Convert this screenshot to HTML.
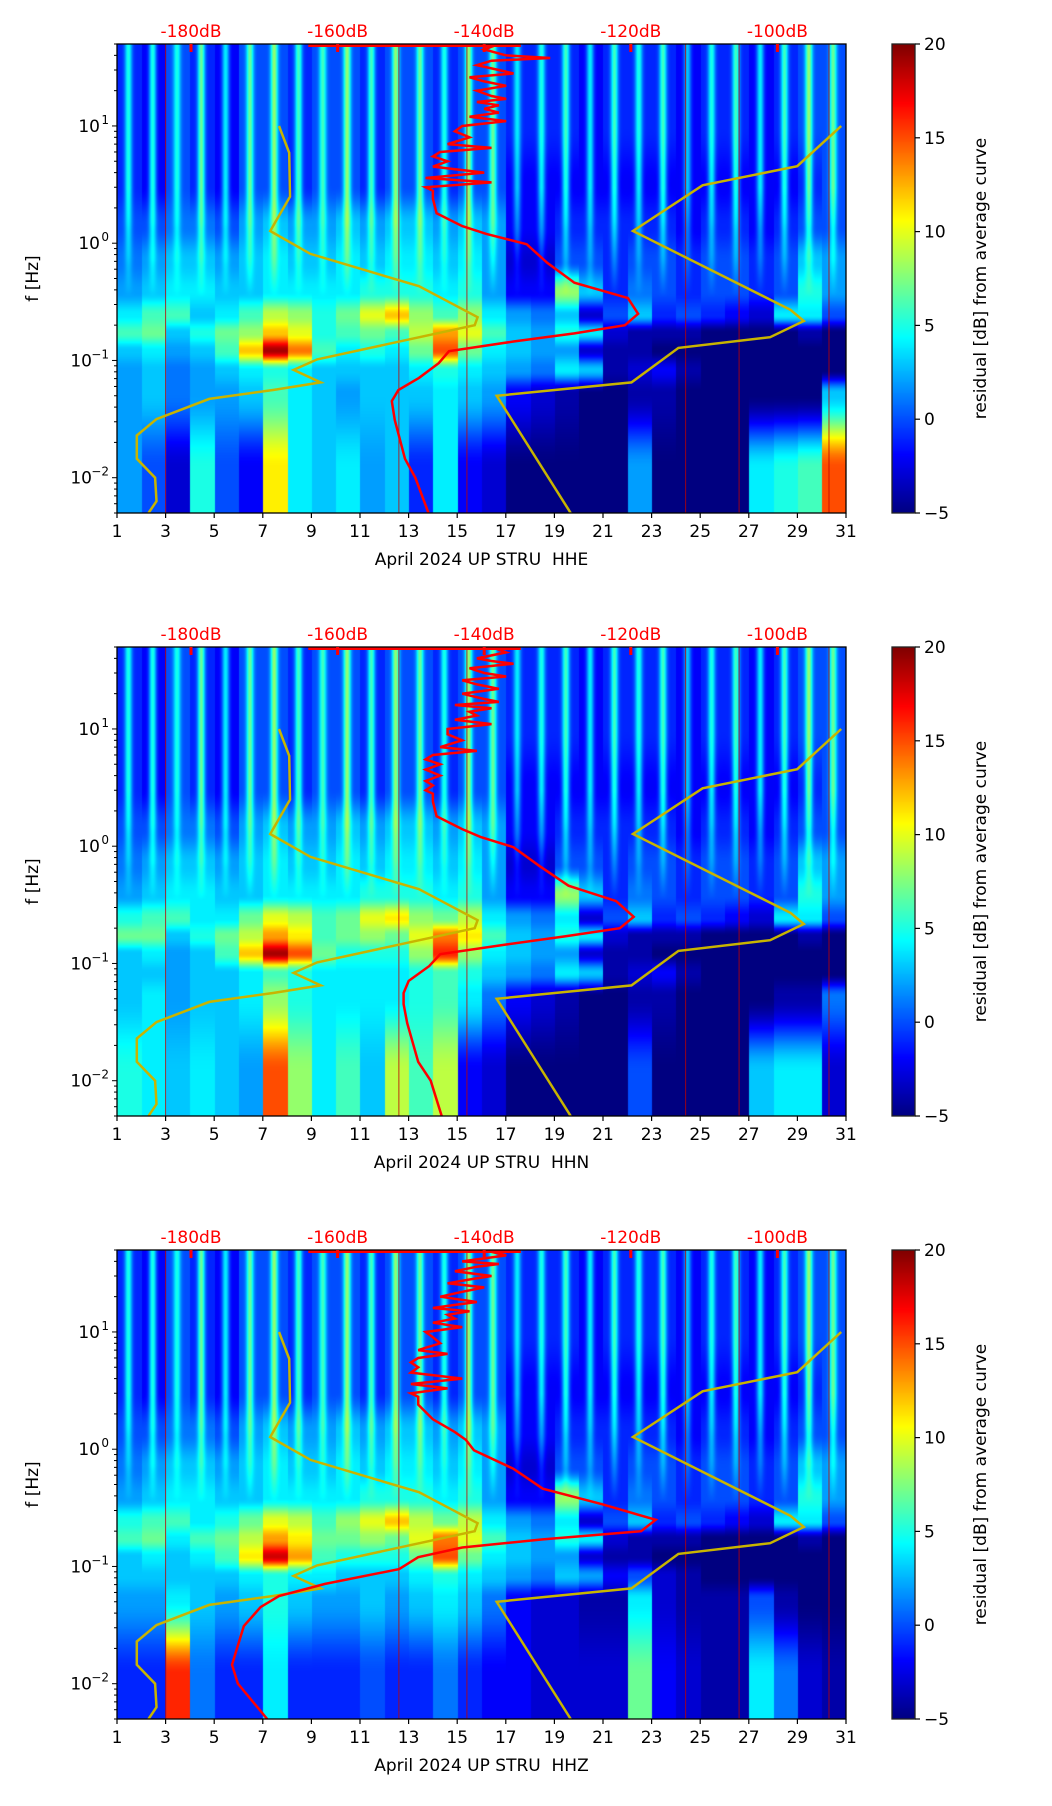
<!DOCTYPE html>
<html><head><meta charset="utf-8">
<style>
body{margin:0;background:#fff;}
#root{position:relative;width:1052px;height:1806px;overflow:hidden;background:#fff;font-family:"DejaVu Sans","Liberation Sans",sans-serif;}
.hm{position:absolute;overflow:hidden;}
.hm canvas{position:absolute;left:0;top:0;}
svg{position:absolute;left:0;top:0;}
text{white-space:pre;}
</style></head>
<body>
<div id="root">
<div class="hm" id="hm0"></div>
<div class="hm" id="hm1"></div>
<div class="hm" id="hm2"></div>
<div class="hm" id="cb0"></div>
<div class="hm" id="cb1"></div>
<div class="hm" id="cb2"></div>
<svg id="ov" width="1052" height="1806"></svg>
</div>
<script>
// ---------- data ----------
const bandEdges = [50,20,5,2,1,0.5,0.3,0.2,0.15,0.1,0.07,0.04,0.005];
const dayTicks = [1,3,5,7,9,11,13,15,17,19,21,23,25,27,29,31];
const freqTicks = [0.01,0.1,1,10];
const freqTickLabels = ["−2","−1","0","1"];
const dbTicks = [-180,-160,-140,-120,-100];
const cbTicks = [-5,0,5,10,15,20];
const channels = ["HHE","HHN","HHZ"];
const redDayLines = [3.0,12.6,15.4,24.4,26.6,30.3];
const stripeStrength = [6,7,5,8,6,7,8,7,6,8,7,8,7,6,8,7,5,6,7,6,7,6,7,5,6,7,6,7,8,7];

const upperRows = [
[-1,-2,0,-1,-2,0,0,-1,0,0,-1,0,0,-1,0,0,-1,-1,-1,-2,-1,-1,-1,-2,-1,-1,-2,-1,0,0],
[-1,-2,0,-1,-2,0,0,-1,0,0,-1,0,0,-1,0,0,-1,-1,-1,-2,-1,-1,-1,-2,-1,-1,-2,-1,0,0],
[-1,-2,0,-1,-2,0,0,-1,0,0,-1,0,0,-1,0,0,-2,-2,-2,-2,-2,-2,-2,-2,-2,-2,-2,-2,-1,0],
[0,0,1,1,0,2,3,2,2,3,2,3,3,2,3,2,-2,-2,-1,-1,-1,-1,-1,-2,-1,-1,-2,-1,0,0],
[1,2,3,3,2,3,4,3,3,4,3,4,4,3,4,2,-3,-3,0,0,-1,0,0,-1,0,0,-1,0,3,2],
[2,3,4,4,3,3,4,4,4,4,5,5,5,4,5,2,-2,-2,8,3,-1,1,0,-1,0,0,-1,0,5,2]];
const lowerHHE = [
[4,6,6,3,4,6,9,8,5,7,10,12,8,6,8,4,2,1,3,-3,0,3,-1,0,-1,-2,-3,4,4,0],
[6,7,3,5,7,8,12,10,5,6,7,6,9,13,10,6,3,2,5,4,-3,-4,-4,-4,-5,-5,-5,-5,-4,-5],
[3,4,2,3,6,12,19,14,6,4,5,4,7,15,7,4,3,2,2,-3,-4,-4,-5,-5,-5,-5,-5,-5,-5,-5],
[2,3,1,2,3,4,5,4,3,3,3,3,4,5,4,3,2,1,4,3,-4,-3,-2,-4,-5,-5,-5,-5,-5,-5],
[2,3,1,2,2,3,6,4,3,2,3,3,3,4,3,2,-2,-3,-4,-5,-5,-4,-4,-5,-5,-5,-5,-5,-5,3],
[2,0,-3,5,0,-2,11,4,3,4,2,3,-1,4,-2,-3,-5,-5,-5,-5,-5,2,-5,-5,-5,-5,4,5,6,15]];
const lowerHHN = [
[5,6,6,4,4,7,10,9,6,7,10,11,8,7,9,4,2,1,4,-3,0,3,-1,0,-1,-2,-3,4,4,0],
[7,7,3,5,7,9,13,11,6,7,8,7,10,14,11,6,3,2,5,4,-3,-4,-4,-4,-5,-5,-5,-5,-4,-5],
[3,4,2,3,6,12,19,15,7,5,5,5,8,16,8,4,3,2,2,-3,-4,-4,-5,-5,-5,-5,-5,-5,-5,-5],
[3,3,2,3,3,4,6,5,4,4,4,4,5,6,5,3,2,1,4,3,-4,-3,-2,-4,-5,-5,-5,-5,-5,-5],
[3,4,2,3,3,4,8,5,4,4,4,4,5,6,4,1,-2,-3,-4,-5,-5,-4,-4,-5,-5,-5,-5,-4,-4,1],
[5,4,3,4,3,2,15,8,4,6,3,9,6,9,-2,-3,-5,-5,-5,-5,-5,0,-5,-5,-5,-5,3,4,4,-3]];
const lowerHHZ = [
[5,6,6,4,5,7,10,9,6,8,10,12,9,7,9,4,2,1,4,-3,0,3,-1,0,-1,-2,-3,4,4,0],
[6,7,4,6,7,9,13,11,7,7,8,7,10,14,10,6,3,2,5,4,-3,-4,-4,-4,-5,-5,-5,-5,-4,-5],
[3,4,3,4,6,11,18,13,6,5,5,5,7,15,7,4,3,2,2,-3,-4,-4,-5,-5,-5,-5,-5,-5,-5,-5],
[3,3,3,3,3,4,5,4,4,3,3,3,4,5,4,3,2,1,3,2,-2,0,-3,-4,-5,-5,-5,-5,-5,-5],
[2,2,4,3,2,3,5,3,2,2,3,2,3,4,3,1,-2,-3,-3,-4,-4,4,-3,-4,-4,-4,0,-4,-5,-5],
[-1,-1,16,1,-1,-1,4,-1,-1,-1,0,-1,-1,1,-1,-2,-2,-3,-3,-3,-3,7,-2,-3,-4,-4,4,1,-3,-4]];
const lowers = [lowerHHE, lowerHHN, lowerHHZ];

// low noise model (yellow)
const nlnmF  = [10,5.9,2.49,1.27,0.81,0.43,0.234,0.2,0.102,0.083,0.065,0.056,0.047,0.0316,0.0229,0.0145,0.01,0.0063,0.005];
const nlnmDb = [-168,-166.6,-166.5,-169.2,-163.7,-148.9,-140.9,-141.3,-162.8,-166,-162.3,-168.8,-177.5,-184.7,-187.4,-187.4,-184.9,-184.7,-185.8];
// high noise model (yellow)
const nhnmF  = [10,4.54,3.12,1.27,0.27,0.217,0.158,0.128,0.065,0.05,0.005];
const nhnmDb = [-91.3,-97.3,-110.2,-119.7,-98.2,-96.4,-101,-113.5,-119.9,-138.3,-128.2];

// average PSD curves (red)
const topF = [50,45,40,38,36,33,30,28,26,24,22,20,18,17,16,15,14,13,12,11,10,9,8,7,6.5,6,5.5,5,4.5,4,3.6,3.3,3.0,2.8];
const psdHHE = [-138,-140,-137,-131,-139,-141,-138,-136,-142,-140,-137,-141,-139,-137,-141,-138,-140,-138,-142,-137,-143,-144,-142,-145,-139,-146,-147,-145,-147,-140,-148,-139,-148,-147];
const psdHHN = [-139,-137,-141,-139,-136,-142,-140,-137,-143,-141,-138,-143,-140,-138,-144,-139,-142,-141,-144,-139,-145,-145,-143,-146,-141,-147,-148,-146,-148,-146,-148,-147,-148,-147];
const psdHHZ = [-140,-137,-143,-138,-141,-144,-139,-142,-145,-140,-143,-146,-141,-144,-147,-142,-145,-144,-147,-143,-148,-147,-146,-149,-145,-149,-150,-149,-150,-143,-150,-145,-150,-149];
const lowF = [2.4,1.8,1.4,1.2,0.98,0.68,0.46,0.34,0.25,0.2,0.17,0.145,0.12,0.095,0.071,0.056,0.045,0.031,0.0145,0.01,0.005];
const lowHHE = [-147,-146.5,-143,-139.7,-134.2,-131.4,-127.7,-120.4,-119,-120.8,-127.7,-136,-144.8,-146.2,-148.9,-151.7,-152.6,-152.2,-150.8,-149.4,-147.6];
const lowHHN = [-147,-146.5,-143,-140.5,-136,-132.5,-128.5,-122,-119.6,-121.5,-129,-137,-146,-147.5,-150.3,-151,-151,-150.5,-149,-147.3,-145.8];
const lowHHZ = [-149,-147,-144,-142.5,-141.4,-136,-132,-124,-116.6,-118.6,-132,-143,-149,-151.6,-161.7,-168,-170.5,-172.8,-174.4,-173.6,-169.6];
const psdTop = [psdHHE, psdHHN, psdHHZ];
const psdLow = [lowHHE, lowHHN, lowHHZ];

// ---------- layout ----------
const L=117, R=846, H=469, tops=[44,647,1250];
const CBL=892, CBR=915;
const fMin=0.005, fMax=50, dMin=1, dMax=31;
const xDay = d => L + (d-dMin)/(dMax-dMin)*(R-L);
const yF = (f,top) => top + (Math.log10(fMax)-Math.log10(f))/(Math.log10(fMax)-Math.log10(fMin))*H;
const xDb = db => 191 + (db+180)*7.33;
function jetArr(v){ const t=Math.max(0,Math.min(1,(v+5)/25));
  const c=x=>Math.round(255*Math.max(0,Math.min(1,x)));
  return [c(1.5-Math.abs(4*t-3)),c(1.5-Math.abs(4*t-2)),c(1.5-Math.abs(4*t-1))]; }

const NS="http://www.w3.org/2000/svg";
const ov=document.getElementById('ov');
function mk(tag,attrs,parent){const e=document.createElementNS(NS,tag);for(const k in attrs)e.setAttribute(k,attrs[k]);(parent||ov).appendChild(e);return e;}

const centers = bandEdges.slice(0,-1).map((f,i)=>(Math.log10(f)+Math.log10(bandEdges[i+1]))/2);
centers[0]=Math.log10(40); centers[centers.length-1]=Math.log10(0.012);

tops.forEach((top,p)=>{
  const g=upperRows.concat(lowers[p]);
  const box=document.getElementById('hm'+p);
  box.style.left=L+'px';box.style.top=top+'px';box.style.width=(R-L)+'px';box.style.height=H+'px';
  const W=R-L;
  const cv=document.createElement('canvas');cv.width=W;cv.height=H;box.appendChild(cv);
  const ctx=cv.getContext('2d');
  const img=ctx.createImageData(W,H);
  for(let y=0;y<H;y++){
    const lf=Math.log10(fMax)-(y/H)*(Math.log10(fMax)-Math.log10(fMin));
    let i0=0; while(i0<centers.length-1 && centers[i0+1]>lf) i0++;
    let i1=Math.min(i0+1,centers.length-1);
    let w= i1===i0?0:Math.max(0,Math.min(1,(centers[i0]-lf)/(centers[i0]-centers[i1])));
    w=w*w*(3-2*w);
    const fHz=Math.pow(10,lf);
    const amp = fHz>=3?1: fHz>=0.35? (Math.log10(fHz)-Math.log10(0.35))/(Math.log10(3)-Math.log10(0.35)) : 0;
    for(let x=0;x<W;x++){
      const d=1+x/W*30; let ci=Math.floor(d-1); if(ci>29)ci=29;
      let v=g[i0][ci]*(1-w)+g[i1][ci]*w;
      const fr=d-Math.floor(d);
      v+=amp*stripeStrength[ci]*Math.exp(-Math.pow((fr-0.45)/0.15,2));
      const c=jetArr(v); const k=(y*W+x)*4;
      img.data[k]=c[0];img.data[k+1]=c[1];img.data[k+2]=c[2];img.data[k+3]=255;
    }
  }
  ctx.putImageData(img,0,0);
  const cb=document.getElementById('cb'+p);
  cb.style.left=CBL+'px';cb.style.top=top+'px';cb.style.width=(CBR-CBL)+'px';cb.style.height=H+'px';
  const cc=document.createElement('canvas');cc.width=CBR-CBL;cc.height=H;cb.appendChild(cc);
  const cx=cc.getContext('2d');
  for(let y=0;y<H;y++){const c=jetArr(20-25*y/H);cx.fillStyle=`rgb(${c})`;cx.fillRect(0,y,CBR-CBL,1);}

  const grp=mk('g',{});
  
  
  redDayLines.forEach(d=>{const l=mk('line',{x1:xDay(d),x2:xDay(d),y1:top,y2:top+H,stroke:'#c00000','stroke-width':1,opacity:0.8},grp);
    });
  const pathOf=(fs,dbs)=>fs.map((f,i)=>(i?'L':'M')+xDb(dbs[i]).toFixed(1)+','+yF(f,top).toFixed(1)).join('');
  const clipId='clip'+p;
  const cp=mk('clipPath',{id:clipId},grp);mk('rect',{x:L,y:top,width:R-L,height:H},cp);
  const lo=mk('path',{d:pathOf(nlnmF,nlnmDb),fill:'none',stroke:'#c8b400','stroke-width':2.5,'clip-path':`url(#${clipId})`},grp);
  
  const hi=mk('path',{d:pathOf(nhnmF,nhnmDb),fill:'none',stroke:'#c8b400','stroke-width':2.5,'clip-path':`url(#${clipId})`},grp);
  
  const rf=topF.concat(lowF), rd=psdTop[p].concat(psdLow[p]);
  const rc=mk('path',{d:pathOf(rf,rd),fill:'none',stroke:'#ff0000','stroke-width':2.5,'clip-path':`url(#${clipId})`},grp);
  
  mk('rect',{x:xDb(-164),y:top,width:xDb(-135)-xDb(-164),height:3,fill:'#ff0000'},grp);
  mk('rect',{x:L,y:top,width:R-L,height:H,fill:'none',stroke:'#000','stroke-width':1.3},grp);
  mk('rect',{x:CBL,y:top,width:CBR-CBL,height:H,fill:'none',stroke:'#222','stroke-width':1.3},grp);
  dbTicks.forEach(db=>{
    mk('rect',{x:xDb(db)-1.5,y:top,width:3,height:8,fill:'#ff0000'},grp);
    const t=mk('text',{x:xDb(db),y:top-7,'text-anchor':'middle','font-size':17,fill:'#ff0000'},grp);t.textContent=db+'dB';
    
  });
  dayTicks.forEach(d=>{
    mk('line',{x1:xDay(d),x2:xDay(d),y1:top+H,y2:top+H+5,stroke:'#000','stroke-width':1.2},grp);
    const t=mk('text',{x:xDay(d),y:top+H+24,'text-anchor':'middle','font-size':17,fill:'#000'},grp);t.textContent=d;
    
  });
  const xl=mk('text',{x:(L+R)/2,y:top+H+52,'text-anchor':'middle','font-size':17,fill:'#000','xml:space':'preserve'},grp);
  xl.textContent='April 2024 UP STRU  '+channels[p];
  for(let e=-3;e<=1;e++)for(let m=1;m<=9;m++){const f=m*Math.pow(10,e);if(f<fMin||f>fMax)continue;
    mk('line',{x1:L-(m===1?5:3),x2:L,y1:yF(f,top),y2:yF(f,top),stroke:'#000','stroke-width':1},grp);}
  freqTicks.forEach((f,i)=>{
    const sup=freqTickLabels[i];
    const t=mk('text',{x:L-8-(sup.length>1?17:9),y:yF(f,top)+6,'text-anchor':'end','font-size':17,fill:'#000'},grp);t.textContent='10';
    const s=mk('text',{x:L-8,y:yF(f,top)-2,'text-anchor':'end','font-size':12,fill:'#000'},grp);s.textContent=sup;
    
  });
  const yl=mk('text',{x:0,y:0,'text-anchor':'middle','font-size':17,fill:'#000',transform:`translate(38,${top+H/2}) rotate(-90)`},grp);
  yl.textContent='f [Hz]';
  cbTicks.forEach(v=>{const y=top+(20-v)/25*H;
    mk('line',{x1:CBR,x2:CBR+5,y1:y,y2:y,stroke:'#000','stroke-width':1.2},grp);
    const t=mk('text',{x:CBR+9,y:y+6,'font-size':17,fill:'#000'},grp);t.textContent=v<0?'−'+(-v):v;
    });
  const ct=mk('text',{x:0,y:0,'text-anchor':'middle','font-size':17,fill:'#000',transform:`translate(986,${top+H/2}) rotate(-90)`},grp);
  ct.textContent='residual [dB] from average curve';
});
</script>
</body></html>
